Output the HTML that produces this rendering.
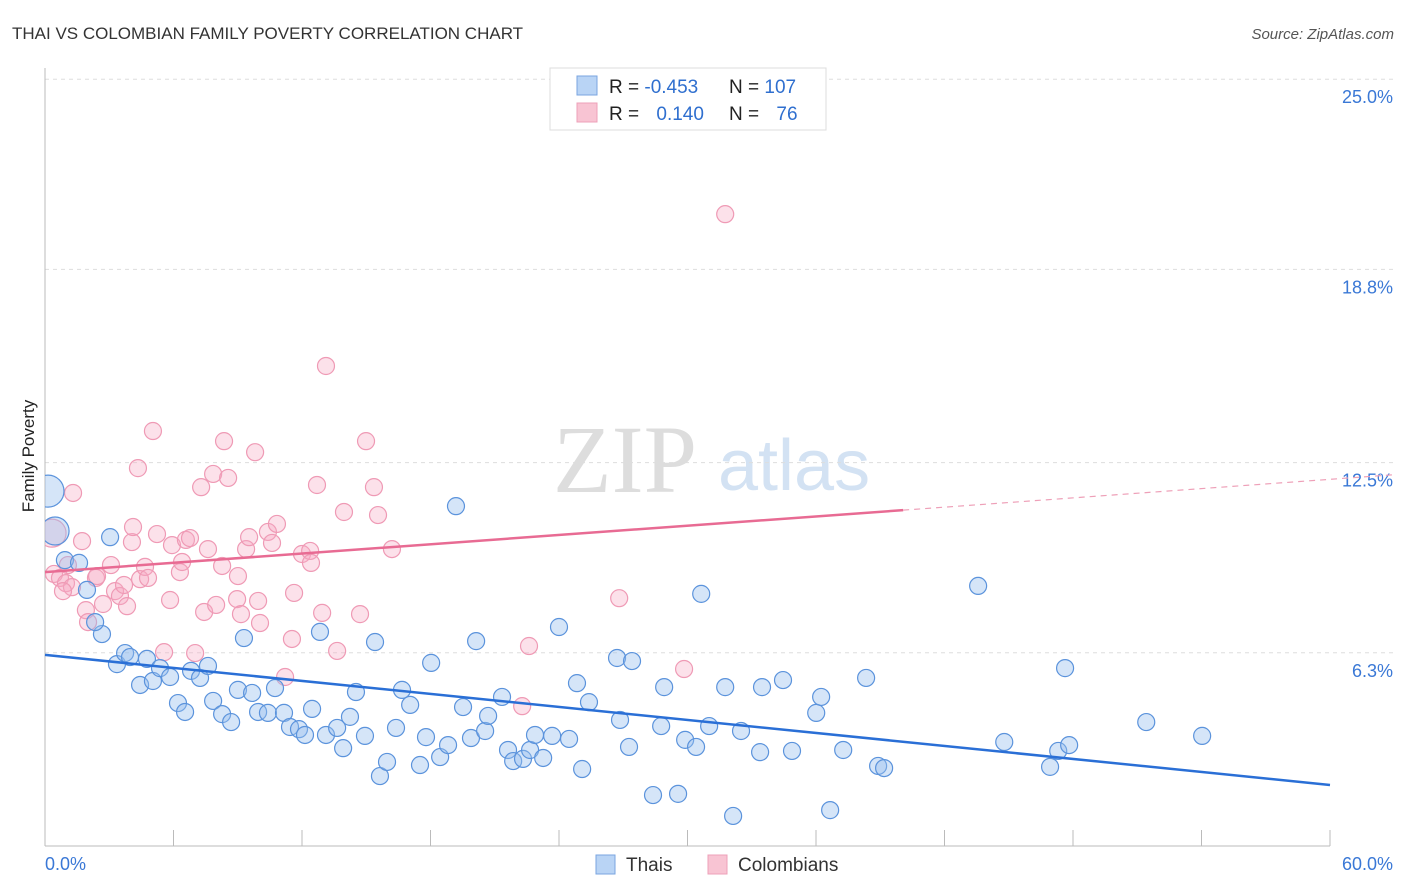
<!DOCTYPE html>
<html><head><meta charset="utf-8"><style>
body{margin:0;background:#fff;font-family:"Liberation Sans",sans-serif}
svg{display:block}
</style></head><body>
<svg id="chart" width="1406" height="892">
<defs><clipPath id="plotclip"><rect x="45" y="60" width="1361" height="800"/></clipPath></defs>
<text x="12" y="39" font-size="17" fill="#333">THAI VS COLOMBIAN FAMILY POVERTY CORRELATION CHART</text>
<text x="1394" y="39" font-size="15" fill="#555" font-style="italic" text-anchor="end">Source: ZipAtlas.com</text>
<text x="34" y="456" font-size="17" fill="#222" transform="rotate(-90 34 456)" text-anchor="middle">Family Poverty</text>
<g><text x="553" y="492" font-family="Liberation Serif,serif" font-size="96" fill="#ddd">ZIP</text><text x="718" y="490" font-size="72" fill="#d3e2f3">atlas</text></g>
<g id="grid"></g><g id="axes"></g><g id="pts" clip-path="url(#plotclip)"></g><g id="trend"></g>
<g>
<rect x="550" y="68" width="276" height="62" fill="#fff" stroke="#ddd"/>
<rect x="577" y="76" width="20" height="19" fill="#b9d4f5" stroke="#7aa5e0"/>
<rect x="577" y="103" width="20" height="19" fill="#f8c4d3" stroke="#eea0b8"/>
<text x="609" y="93" font-size="19" fill="#222">R = <tspan fill="#2f6fcf">-0.453</tspan></text>
<text x="729" y="93" font-size="19" fill="#222">N = <tspan fill="#2f6fcf">107</tspan></text>
<text x="609" y="120" font-size="19" fill="#222">R = <tspan fill="#2f6fcf" dx="12">0.140</tspan></text>
<text x="729" y="120" font-size="19" fill="#222">N = <tspan fill="#2f6fcf" dx="12">76</tspan></text>
</g>
<g>
<rect x="596" y="855" width="19" height="19" fill="#b9d4f5" stroke="#7aa5e0"/>
<text x="626" y="871" font-size="19" fill="#333">Thais</text>
<rect x="708" y="855" width="19" height="19" fill="#f8c4d3" stroke="#eea0b8"/>
<text x="738" y="871" font-size="19" fill="#333">Colombians</text>
</g>
</svg>
<script>
const yTicks=[25.0,18.8,12.5,6.3];
const yTickLabels=["25.0%","18.8%","12.5%","6.3%"];
const xTickValues=[0,6,12,18,24,30,36,42,48,54,60];
const xEndLabels=["0.0%","60.0%"];
const thaiX=[0.14,0.47,0.93,1.59,2.66,3.04,1.96,2.34,3.36,3.74,3.97,4.44,4.76,5.04,5.37,5.84,6.21,6.54,6.82,7.24,7.61,7.85,8.27,8.69,9.01,9.29,9.67,9.95,10.41,10.74,11.16,11.44,11.86,12.14,12.47,12.84,13.12,13.64,13.92,14.24,14.52,14.94,15.41,15.64,15.97,16.39,16.67,17.05,17.51,17.79,18.03,18.45,18.82,19.19,19.52,19.89,20.13,20.55,20.69,21.34,21.62,21.86,22.32,22.65,22.88,23.26,23.68,24.00,24.47,24.84,25.08,25.40,26.71,26.85,27.27,27.41,28.39,28.77,28.91,29.56,29.89,30.40,30.64,31.01,31.76,32.13,32.50,33.39,33.48,34.46,34.88,36.01,36.24,36.66,37.27,38.34,38.90,39.18,43.57,44.79,46.93,47.31,47.63,47.82,51.42,54.03];
const thaiY=[11.57,10.27,9.32,9.23,6.91,10.07,8.35,7.30,5.93,6.29,6.16,5.25,6.10,5.38,5.80,5.51,4.66,4.37,5.71,5.48,5.87,4.73,4.30,4.04,5.09,6.78,4.99,4.37,4.34,5.15,4.34,3.88,3.81,3.62,4.47,6.98,3.62,3.85,3.19,4.21,5.02,3.59,6.65,2.28,2.74,3.85,5.09,4.60,2.64,3.55,5.97,2.90,3.29,11.08,4.53,3.52,6.68,3.75,4.24,4.86,3.13,2.77,2.84,3.13,3.62,2.87,3.59,7.14,3.49,5.31,2.51,4.69,6.13,4.11,3.23,6.03,1.66,3.91,5.18,1.70,3.46,3.23,8.22,3.91,5.18,0.98,3.75,3.06,5.18,5.41,3.10,4.34,4.86,1.17,3.13,5.48,2.61,2.54,8.48,3.39,2.58,3.10,5.80,3.29,4.04,3.59];
const colX=[0.33,1.31,1.73,0.42,0.70,0.98,1.07,1.26,2.38,0.84,1.91,2.01,2.43,2.71,3.08,3.27,3.50,3.83,3.69,4.06,4.44,4.11,4.34,4.67,4.81,5.04,5.23,5.56,5.84,5.93,6.30,6.40,6.58,6.77,7.01,7.29,7.43,7.61,7.85,7.99,8.27,8.36,8.55,9.01,8.97,9.15,9.39,9.53,9.81,9.95,10.04,10.41,10.60,10.83,11.21,11.53,11.63,12.00,12.38,12.42,12.70,12.94,13.12,13.64,13.96,14.71,14.99,15.36,15.55,16.20,22.60,26.81,29.84,22.28,31.76];
const colY=[10.20,11.51,9.94,8.87,8.74,8.57,9.16,8.44,8.74,8.31,7.69,7.30,8.80,7.89,9.16,8.31,8.15,7.82,8.51,9.91,8.70,10.40,12.32,9.10,8.74,13.53,10.17,6.32,8.02,9.81,8.93,9.26,9.98,10.04,6.29,11.70,7.63,9.68,12.13,7.86,9.13,13.20,12.00,8.80,8.05,7.56,9.68,10.07,12.84,7.99,7.27,10.24,9.88,10.50,5.51,6.75,8.25,9.52,9.62,9.23,11.77,7.60,15.65,6.36,10.89,7.56,13.20,11.70,10.79,9.68,6.52,8.08,5.77,4.56,20.60];
const thaiTrend=[6.23,1.99];
const colTrend=[8.93,10.95];
const NS="http://www.w3.org/2000/svg";
const xS=v=>45+v/60*1285, yS=v=>846-v/6.25*191.7;
function mk(p,t,a){const e=document.createElementNS(NS,t);for(const k in a)e.setAttribute(k,a[k]);p.appendChild(e);return e;}
const grid=document.getElementById('grid'),axes=document.getElementById('axes'),pts=document.getElementById('pts'),trend=document.getElementById('trend');
yTicks.forEach((v,i)=>{
 const l=mk(grid,'line',{x1:45,x2:1393,y1:yS(v),y2:yS(v),stroke:'#ddd','stroke-dasharray':'4 4'});
 
 
 const t=mk(grid,'text',{x:1393,y:yS(v)+24,'text-anchor':'end','font-size':18,fill:'#3a78d6'});t.textContent=yTickLabels[i];
 
 
});
const ax=mk(axes,'line',{x1:45,x2:45,y1:68,y2:846,stroke:'#bbb'});


const bx=mk(axes,'line',{x1:45,x2:1330,y1:846,y2:846,stroke:'#bbb'});


xTickValues.forEach(v=>{const t=mk(axes,'line',{x1:xS(v),x2:xS(v),y1:830,y2:846,stroke:'#bbb'});
 
 });
[[0,'start',45],[60,'end',1393]].forEach((d,i)=>{const t=mk(axes,'text',{x:d[2],y:870,'text-anchor':d[1],'font-size':18,fill:'#3a78d6'});t.textContent=xEndLabels[i];
 
 });
colX.forEach((x,i)=>{const c=mk(pts,'circle',{cx:xS(x),cy:yS(colY[i]),r:i==0?14:8.5,fill:'rgba(246,170,195,0.35)',stroke:'#ef9ab5','stroke-width':1.2});
 
 });
thaiX.forEach((x,i)=>{const c=mk(pts,'circle',{cx:xS(x),cy:yS(thaiY[i]),r:i==0?16:(i==1?14:8.5),fill:'rgba(150,190,238,0.4)',stroke:'#5b93dc','stroke-width':1.2});
 
 });
const tl=mk(trend,'line',{x1:xS(0),y1:yS(thaiTrend[0]),x2:xS(60),y2:yS(thaiTrend[1]),stroke:'#2a6fd6','stroke-width':2.5});


const slope=(colTrend[1]-colTrend[0])/40.07;
const cl=mk(trend,'line',{x1:xS(0),y1:yS(colTrend[0]),x2:xS(40.07),y2:yS(colTrend[1]),stroke:'#e86b93','stroke-width':2.5});


const cd=mk(trend,'line',{x1:xS(40.07),y1:yS(colTrend[1]),x2:xS(62.95),y2:yS(colTrend[0]+slope*62.95),stroke:'#eea0b8','stroke-width':1.2,'stroke-dasharray':'6 5'});


</script>
</body></html>
